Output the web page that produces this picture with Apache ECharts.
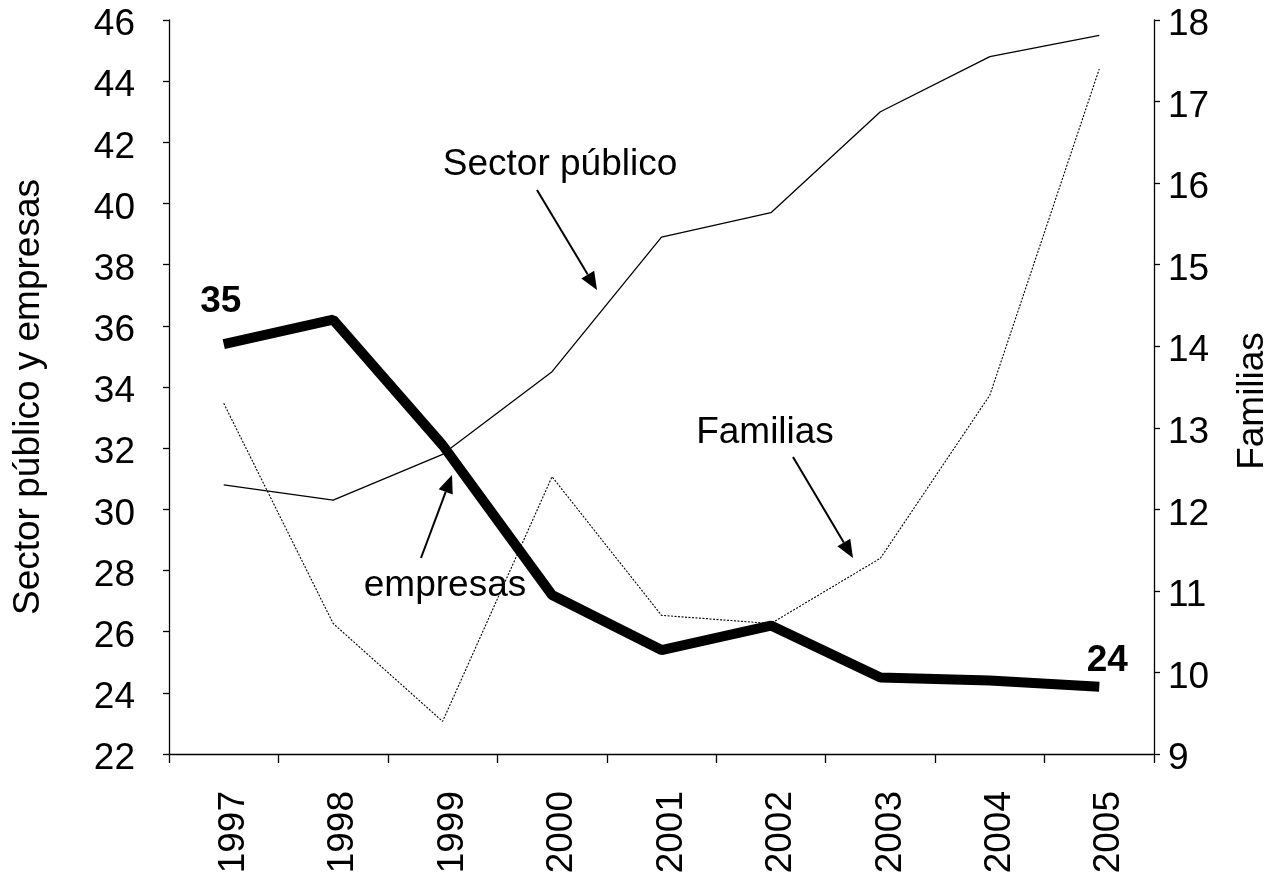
<!DOCTYPE html>
<html>
<head>
<meta charset="utf-8">
<script src="https://cdn.jsdelivr.net/npm/echarts@6/dist/echarts.min.js"></script>
<style>
  html, body { margin: 0; padding: 0; background: #fff; }
  #chart { width: 1279px; height: 877px; }
</style>
</head>
<body>
<div id="chart"></div>
<script>
// datos
const years = ['1997', '1998', '1999', '2000', '2001', '2002', '2003', '2004', '2005']
const sectorPublico = [30.8, 30.3, 31.8, 34.5, 38.9, 39.7, 43.0, 44.8, 45.5]
const empresas = [35.4, 36.2, 32.1, 27.2, 25.4, 26.2, 24.5, 24.4, 24.2]
const familias = [13.3, 10.6, 9.4, 12.4, 10.7, 10.6, 11.4, 13.4, 17.4]
const leftTicks = { min: 22, max: 46, interval: 2 }
const rightTicks = { min: 9, max: 18, interval: 1 }

const FONT = "'Liberation Sans', Arial, sans-serif"
const FS = 37

const chart = echarts.init(document.getElementById('chart'))

// flecha simple: linea + punta rellena
function arrow (x1, y1, x2, y2) {
  const len = 18
  const half = 7.5
  const dx = x2 - x1
  const dy = y2 - y1
  const d = Math.sqrt(dx * dx + dy * dy)
  const ux = dx / d
  const uy = dy / d
  const bx = x2 - ux * len
  const by = y2 - uy * len
  return [
    {
      type: 'line',
      shape: { x1: x1, y1: y1, x2: bx, y2: by },
      style: { stroke: '#000', lineWidth: 2 }
    },
    {
      type: 'polygon',
      shape: { points: [[x2, y2], [bx - uy * half, by + ux * half], [bx + uy * half, by - ux * half]] },
      style: { fill: '#000' }
    }
  ]
}

function note (text, x, y) {
  return {
    type: 'text',
    x: x,
    y: y,
    style: {
      text: text,
      font: FS + 'px ' + FONT,
      fill: '#000',
      align: 'center',
      verticalAlign: 'middle'
    }
  }
}

const last = empresas.length - 1
const empresasData = empresas.map((v, i) => {
  if (i === 0) return { value: v, label: { show: true, offset: [-3, -14] } }
  if (i === last) return { value: v, label: { show: true, offset: [8, 3] } }
  return v
})

const axisLine = { show: true, lineStyle: { color: '#000', width: 1.3 } }
const tickStyle = { color: '#000', width: 1.3 }

// etiquetas con un pequeno desplazamiento como en el original
function shiftedLabel (margin, pad, extra) {
  return Object.assign({
    margin: margin,
    formatter: '{t|{value}}',
    rich: {
      t: { fontSize: FS, color: '#000', fontFamily: FONT, padding: pad }
    }
  }, extra || {})
}

const option = {
  animation: false,
  backgroundColor: '#fff',
  textStyle: { fontFamily: FONT },
  grid: { left: 169, right: 120, top: 20, bottom: 123 },
  xAxis: {
    type: 'category',
    data: years,
    boundaryGap: true,
    axisLine: axisLine,
    axisTick: { show: true, length: 9, lineStyle: tickStyle },
    axisLabel: shiftedLabel(37, [20, 0, 0, 0], { rotate: 90 }),
    splitLine: { show: false }
  },
  yAxis: [
    {
      type: 'value',
      position: 'left',
      min: leftTicks.min,
      max: leftTicks.max,
      interval: leftTicks.interval,
      name: 'Sector público y empresas',
      nameLocation: 'middle',
      nameGap: 122,
      nameTextStyle: { fontSize: FS, color: '#000', fontFamily: FONT, padding: [0, 20, 0, 0] },
      axisLine: axisLine,
      axisTick: { show: true, length: 6, lineStyle: tickStyle },
      axisLabel: shiftedLabel(34, [10, 0, 0, 0]),
      splitLine: { show: false }
    },
    {
      type: 'value',
      position: 'right',
      min: rightTicks.min,
      max: rightTicks.max,
      interval: rightTicks.interval,
      name: 'Familias',
      nameLocation: 'middle',
      nameGap: 80,
      nameRotate: 90,
      nameTextStyle: { fontSize: FS, color: '#000', fontFamily: FONT, padding: [0, 28, 0, 0] },
      axisLine: axisLine,
      axisTick: { show: true, length: 6, lineStyle: tickStyle },
      axisLabel: shiftedLabel(14, [10, 0, 0, 0]),
      splitLine: { show: false }
    }
  ],
  series: [
    {
      name: 'Familias',
      type: 'line',
      yAxisIndex: 1,
      data: familias,
      showSymbol: false,
      lineStyle: { color: '#000', width: 1.1, type: [2, 1.5] },
      z: 2
    },
    {
      name: 'Sector público',
      type: 'line',
      yAxisIndex: 0,
      data: sectorPublico,
      showSymbol: false,
      lineStyle: { color: '#000', width: 1.3 },
      z: 3
    },
    {
      name: 'empresas',
      type: 'line',
      yAxisIndex: 0,
      data: empresasData,
      showSymbol: true,
      symbol: 'circle',
      symbolSize: 0,
      lineStyle: { color: '#000', width: 10, cap: 'butt', join: 'bevel' },
      label: {
        show: false,
        position: 'top',
        distance: 10,
        fontSize: FS,
        fontWeight: 'bold',
        color: '#000',
        fontFamily: FONT,
        formatter: (p) => Math.round(p.value)
      },
      z: 4
    }
  ],
  graphic: [
    note('Sector público', 560, 165),
    note('Familias', 765, 433),
    note('empresas', 445, 586),
    ...arrow(537, 190, 597, 290),
    ...arrow(793, 457, 853, 558),
    ...arrow(421, 558, 452, 475)
  ]
}

chart.setOption(option)
</script>
</body>
</html>
